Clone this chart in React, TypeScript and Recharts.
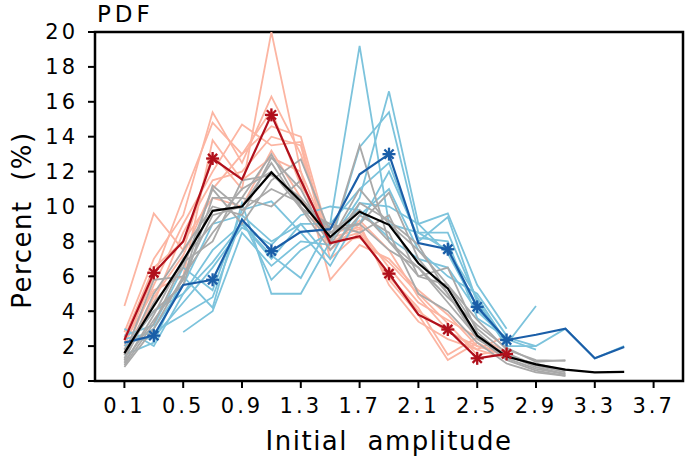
import { LineChart, Line, XAxis, YAxis, ReferenceArea } from 'recharts'

const amplitudes = [0.1, 0.3, 0.5, 0.7, 0.9, 1.1, 1.3, 1.5, 1.7, 1.9, 2.1, 2.3, 2.5, 2.7, 2.9, 3.1, 3.3, 3.5]
const xTicks = [0.1, 0.5, 0.9, 1.3, 1.7, 2.1, 2.5, 2.9, 3.3, 3.7]
const yTicks = [0, 2, 4, 6, 8, 10, 12, 14, 16, 18, 20]

// ensemble members, warm group
const warmMembers: (number | null)[][] = [
  [4.3, 9.6, 7.5, 13.0, 11.0, 20.0, 12.0, 8.0, 8.5, 6.0, 4.0, 2.8, 2.0, 1.6],
  [2.8, 7.0, 9.5, 15.4, 12.5, 16.3, 13.0, 8.2, 8.7, 6.5, 4.5, 3.5, 2.5, 1.7],
  [2.0, 6.0, 10.5, 14.8, 13.0, 14.6, 14.0, 8.0, 8.2, 6.8, 5.0, 3.3, 1.5, 1.8],
  [1.6, 5.5, 9.0, 12.0, 14.7, 13.5, 13.7, 7.5, 9.0, 5.5, 3.4, 2.4, 1.8, 2.6],
  [1.8, 4.5, 8.5, 11.5, 12.0, 14.0, 13.5, 7.0, 8.5, 6.0, 4.2, 1.5, 2.5, 1.5],
  [2.2, 5.2, 6.0, 13.8, 11.5, 12.8, 12.0, 5.8, 7.8, 7.0, 5.2, 3.8, 2.0, 1.5],
  [1.5, 4.8, 7.2, 11.0, 13.0, 15.5, 11.2, 8.5, 8.8, 5.8, 3.8, 1.2, 2.2, 1.3],
  [2.5, 6.5, 8.0, 10.5, 10.0, 13.2, 10.5, 7.8, 9.2, 7.5, 4.8, 2.9, 1.8, 1.3],
]

// ensemble members, cold group
const coldMembers: (number | null)[][] = [
  [2.0, 3.0, 5.5, 9.0, 9.5, 8.0, 9.0, 9.0, 19.2, 9.0, 8.5, 7.5, 4.8, 2.2],
  [1.5, 2.2, 6.0, 4.2, 10.2, 5.0, 5.0, 8.0, 10.5, 16.6, 9.0, 9.6, 5.5, 3.0],
  [null, null, 2.8, 4.0, 8.5, 6.6, 8.0, 7.8, 13.4, 15.4, 8.5, 8.5, 4.6, 2.1, 4.3],
  [3.0, 2.0, 5.0, 6.8, 9.0, 7.2, 5.9, 9.0, 11.0, 12.5, 8.0, 9.4, 4.5, 2.0, 2.0, 3.0, 1.3, 2.0],
  [2.6, 3.2, 6.5, 5.2, 9.8, 10.3, 8.5, 6.6, 9.5, 11.0, 7.5, 6.0, 5.0, 2.6],
  [2.2, 2.5, 4.5, 6.5, 8.8, 7.8, 9.5, 10.0, 9.8, 8.2, 7.0, 6.5, 4.0, 2.4, 1.8],
  [1.8, 4.0, 5.0, 7.5, 9.0, 7.0, 9.0, 7.0, 10.2, 10.0, 9.0, 7.3, 4.2, 2.3],
  [2.4, 2.8, 3.8, 4.8, 9.3, 5.8, 7.5, 8.5, 9.0, 12.0, 8.2, 8.0, 3.6, 2.5, 2.0],
]

// ensemble members, neutral group
const neutralMembers: (number | null)[][] = [
  [0.8, 3.0, 6.0, 8.5, 10.5, 13.0, 10.0, 8.0, 13.5, 8.0, 6.5, 4.5, 2.5, 1.2, 0.6, 0.3],
  [1.2, 4.5, 6.5, 11.0, 9.0, 11.5, 12.7, 8.5, 9.0, 10.8, 7.0, 5.0, 2.5, 1.5, 0.8, 0.4],
  [1.5, 5.8, 6.0, 9.5, 10.0, 12.5, 9.9, 9.0, 8.5, 9.5, 6.0, 5.5, 3.5, 1.8, 1.2, 1.15],
  [1.0, 3.8, 7.0, 9.0, 11.0, 12.0, 9.9, 7.5, 9.5, 8.5, 5.0, 4.0, 2.2, 1.0, 0.5, 0.3],
  [1.8, 4.0, 5.5, 10.5, 10.5, 10.0, 11.5, 8.0, 11.0, 9.0, 7.5, 5.5, 3.0, 1.6, 0.9, 0.5],
  [0.9, 3.3, 6.8, 8.0, 11.5, 11.8, 10.5, 8.5, 9.8, 8.0, 6.0, 6.5, 2.8, 1.3, 0.7, 0.4],
  [1.3, 5.0, 7.5, 10.0, 9.5, 12.8, 11.0, 7.8, 10.2, 9.2, 7.8, 5.0, 2.4, 1.4, 1.0, 0.6],
  [1.1, 3.5, 5.8, 11.2, 9.8, 11.0, 10.2, 8.8, 9.0, 7.5, 6.5, 4.8, 3.2, 1.9, 1.1, 1.2],
]

const warmMean = [2.35, 6.2, 8.0, 12.75, 11.55, 15.25, 11.5, 7.9, 8.3, 6.15, 3.8, 2.95, 1.3, 1.55]
const warmStars = [false, true, false, true, false, true, false, false, false, true, false, true, true, true]

const coldMean = [2.2, 2.6, 5.5, 5.8, 9.25, 7.45, 8.55, 8.7, 11.85, 13.0, 7.9, 7.55, 4.25, 2.35, 2.65, 3.0, 1.3, 1.95]
const coldStars = [false, true, false, true, false, true, false, false, false, true, false, true, true, true, false, false, false, false]

const allMean = [1.6, 4.3, 6.9, 9.75, 10.0, 11.95, 10.3, 8.25, 9.7, 8.95, 6.75, 5.3, 2.6, 1.4, 0.95, 0.65, 0.5, 0.52]

const data = amplitudes.map((x, i) => {
  const row: Record<string, number | null> = { x }
  warmMembers.forEach((s, k) => { row['w' + k] = s[i] ?? null })
  coldMembers.forEach((s, k) => { row['c' + k] = s[i] ?? null })
  neutralMembers.forEach((s, k) => { row['n' + k] = s[i] ?? null })
  row.warm = warmMean[i] ?? null
  row.cold = coldMean[i] ?? null
  row.all = allMean[i] ?? null
  return row
})

const font = '"DejaVu Sans", sans-serif'

function starDot(flags: boolean[], color: string) {
  return (props: any) => {
    const { cx, cy, index } = props
    if (!flags[index] || cx == null || cy == null) return <g key={'s' + index} />
    const r = 6.5
    const d = r * 0.707
    return (
      <g key={'s' + index} stroke={color} strokeWidth={2.3}>
        <line x1={cx - r} y1={cy} x2={cx + r} y2={cy} />
        <line x1={cx} y1={cy - r} x2={cx} y2={cy + r} />
        <line x1={cx - d} y1={cy - d} x2={cx + d} y2={cy + d} />
        <line x1={cx - d} y1={cy + d} x2={cx + d} y2={cy - d} />
      </g>
    )
  }
}

const XTitle = () => (
  <text x={389} y={450} textAnchor="middle" fontFamily={font} fontSize={26} letterSpacing={1.5} fill="#000" style={{ whiteSpace: 'pre' }}>
    Initial  amplitude
  </text>
)

const YTitle = () => (
  <text x={0} y={0} transform="translate(31, 220) rotate(-90)" textAnchor="middle" fontFamily={font} fontSize={26} letterSpacing={1.5} fill="#000" style={{ whiteSpace: 'pre' }}>
    Percent  (%)
  </text>
)

export default function App() {
  const tickStyle = { fill: '#000', fontSize: 21, fontFamily: font, letterSpacing: 3 }
  return (
    <div style={{ position: 'absolute', left: 0, top: 0, width: 685, height: 458, background: '#fff' }}>
      <LineChart width={685} height={458} data={data} margin={{ top: 32, right: 2, bottom: 0, left: 0 }}>
        <text x={97} y={22} fontFamily={font} fontSize={23} letterSpacing={4} fill="#000">PDF</text>
        <XAxis
          dataKey="x"
          type="number"
          domain={[-0.1, 3.9]}
          ticks={xTicks}
          tickFormatter={(v: number) => v.toFixed(1)}
          allowDataOverflow
          height={77}
          tickSize={7}
          tickMargin={10}
          tick={tickStyle}
          axisLine={false}
          tickLine={{ stroke: '#000', strokeWidth: 2 }}
          label={<XTitle />}
        />
        <YAxis
          type="number"
          domain={[0, 20]}
          ticks={yTicks}
          allowDataOverflow
          width={95}
          tickSize={7}
          tickMargin={10}
          tick={tickStyle}
          axisLine={false}
          tickLine={{ stroke: '#000', strokeWidth: 2 }}
          label={<YTitle />}
        />
        {warmMembers.map((_, k) => (
          <Line key={'w' + k} dataKey={'w' + k} stroke="#fcb5a2" strokeWidth={1.8} dot={false} isAnimationActive={false} />
        ))}
        {coldMembers.map((_, k) => (
          <Line key={'c' + k} dataKey={'c' + k} stroke="#7cc3dc" strokeWidth={1.8} dot={false} isAnimationActive={false} />
        ))}
        {neutralMembers.map((_, k) => (
          <Line key={'n' + k} dataKey={'n' + k} stroke="#a9a9a9" strokeWidth={1.8} dot={false} isAnimationActive={false} />
        ))}
        <Line dataKey="warm" stroke="#b0101c" strokeWidth={2.2} dot={starDot(warmStars, '#b0101c')} isAnimationActive={false} />
        <Line dataKey="cold" stroke="#1a5ea8" strokeWidth={2.2} dot={starDot(coldStars, '#1a5ea8')} isAnimationActive={false} />
        <Line dataKey="all" stroke="#000" strokeWidth={2.2} dot={false} isAnimationActive={false} />
        <ReferenceArea x1={-0.1} x2={3.9} y1={0} y2={20} fill="none" stroke="#000" strokeWidth={2.5} ifOverflow="visible" />
      </LineChart>
    </div>
  )
}
